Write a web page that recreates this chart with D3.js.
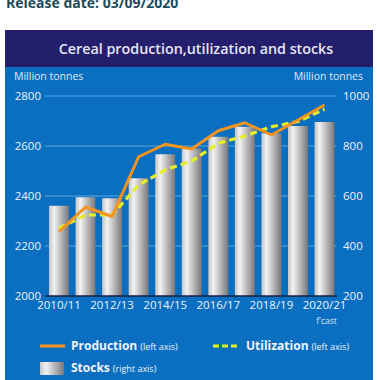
<!DOCTYPE html>
<html><head><meta charset="utf-8">
<script src="https://cdn.jsdelivr.net/npm/d3@7"></script>
<style>html,body{margin:0;padding:0;background:#fff;overflow:hidden}</style>
</head><body>
<script>
const categories = ["2010/11","2011/12","2012/13","2013/14","2014/15","2015/16","2016/17","2017/18","2018/19","2019/20","2020/21"];
const tickCategories = ["2010/11","2012/13","2014/15","2016/17","2018/19","2020/21"];
const production = [2257, 2356, 2318, 2557, 2607, 2588, 2661, 2693, 2644, 2704, 2764];
const utilization = [2271, 2324, 2324, 2444, 2504, 2540, 2611, 2640, 2677, 2698, 2747];
const stocks = [561, 595, 591, 671, 767, 790, 837, 877, 851, 880, 896];
const leftTicks = [2000, 2200, 2400, 2600, 2800];
const rightTicks = [200, 400, 600, 800, 1000];

const W = 377, H = 380;
const svg = d3.select("body").append("svg").attr("width", W).attr("height", H);
const font = "'Open Sans', 'Noto Sans', sans-serif";

const defs = svg.append("defs");
const g = defs.append("linearGradient").attr("id","barGrad").attr("x1","0").attr("x2","1").attr("y1","0").attr("y2","0");
g.append("stop").attr("offset","0%").attr("stop-color","#c4c4c6");
g.append("stop").attr("offset","25%").attr("stop-color","#f2f2f2");
g.append("stop").attr("offset","100%").attr("stop-color","#78787c");

// release date
svg.append("text").attr("x",6).attr("y",8).attr("font-family",font).attr("font-weight",700)
  .attr("font-size",14).attr("fill","#1b4b5a").text("Release date: 03/09/2020");

// panel
svg.append("rect").attr("x",5).attr("y",30).attr("width",368).attr("height",360).attr("fill","#0a6fc0");
svg.append("rect").attr("x",5).attr("y",30).attr("width",368).attr("height",37).attr("fill","#231f6c");
svg.append("text").attr("x",196).attr("y",54).attr("text-anchor","middle").attr("font-family",font)
  .attr("font-weight",600).attr("font-size",14.3).attr("fill","#e6e6f0").text("Cereal production,utilization and stocks");

const x = d3.scaleBand().domain(categories).range([45.7, 337.8]).paddingInner(0.25).paddingOuter(0.125);
const yL = d3.scaleLinear().domain([2000, 2800]).range([296, 96]);
const yR = d3.scaleLinear().domain([200, 1000]).range([296, 96]);

// gridlines
svg.append("g").selectAll("line").data(leftTicks.slice(1)).join("line")
  .attr("x1",45).attr("x2",336).attr("y1",d=>yL(d)).attr("y2",d=>yL(d))
  .attr("stroke","#5aa6e2").attr("stroke-width",1);

// axes
const axL = svg.append("g").attr("transform","translate(45,0)")
  .call(d3.axisLeft(yL).tickValues(leftTicks).tickSize(0).tickPadding(4).tickFormat(d3.format("d")));
const axR = svg.append("g").attr("transform","translate(337,0)")
  .call(d3.axisRight(yR).tickValues(rightTicks).tickSize(0).tickPadding(6).tickFormat(d3.format("d")));
[axL, axR].forEach(a=>{
  a.select(".domain").remove();
  a.selectAll("text").attr("font-family",font).attr("font-size",11.5).attr("fill","#eef2fa");
});

svg.append("text").attr("x",14).attr("y",80).attr("font-family",font).attr("font-size",10.5).attr("fill","#dfe8f5").text("Million tonnes");
svg.append("text").attr("x",363).attr("y",80).attr("text-anchor","end").attr("font-family",font).attr("font-size",10.5).attr("fill","#dfe8f5").text("Million tonnes");

// bars
svg.append("g").selectAll("rect").data(categories).join("rect")
  .attr("x",d=>x(d)).attr("width",x.bandwidth())
  .attr("y",(d,i)=>yR(stocks[i])).attr("height",(d,i)=>yR(200)-yR(stocks[i]))
  .attr("fill","url(#barGrad)");

// x axis
const axB = svg.append("g").attr("transform","translate(0,296)")
  .call(d3.axisBottom(x).tickValues(tickCategories).tickSize(0).tickPadding(5));
axB.select(".domain").attr("d","M45,0H337").attr("stroke","#102040").attr("stroke-width",1.5);
axB.selectAll("text").attr("font-family",font).attr("font-size",11.5).attr("fill","#eef2fa");
svg.append("text").attr("x",x("2020/21")+x.bandwidth()/2+2).attr("y",323.5).attr("text-anchor","middle")
  .attr("font-family",font).attr("font-size",8.5).attr("fill","#dfe8f5").text("f'cast");

// lines
const cx = d => x(d) + x.bandwidth()/2;
const lineL = d3.line().x(d=>cx(d[0])).y(d=>yL(d[1]));
svg.append("path").datum(categories.map((c,i)=>[c,utilization[i]])).attr("d",lineL)
  .attr("fill","none").attr("stroke","#e6ee2a").attr("stroke-width",3.2).attr("stroke-dasharray","7,4");
svg.append("path").datum(categories.map((c,i)=>[c,production[i]])).attr("d",lineL)
  .attr("fill","none").attr("stroke","#f39320").attr("stroke-width",3).attr("stroke-linejoin","round");

// legend
const lg = svg.append("g");
lg.append("line").attr("x1",40).attr("x2",65).attr("y1",346).attr("y2",346).attr("stroke","#f39320").attr("stroke-width",3);
const t1 = lg.append("text").attr("x",71).attr("y",350).attr("font-family",font).attr("fill","#f0f4fa");
t1.append("tspan").attr("font-weight",700).attr("font-size",12).text("Production");
t1.append("tspan").attr("font-size",9).attr("dx",3).text("(left axis)");
lg.append("line").attr("x1",213).attr("x2",238).attr("y1",346).attr("y2",346).attr("stroke","#e6ee2a").attr("stroke-width",3).attr("stroke-dasharray","6,3");
const t2 = lg.append("text").attr("x",246).attr("y",350).attr("font-family",font).attr("fill","#f0f4fa");
t2.append("tspan").attr("font-weight",700).attr("font-size",12).text("Utilization");
t2.append("tspan").attr("font-size",9).attr("dx",3).text("(left axis)");
lg.append("rect").attr("x",40).attr("y",362).attr("width",24).attr("height",13).attr("fill","url(#barGrad)");
const t3 = lg.append("text").attr("x",71).attr("y",372).attr("font-family",font).attr("fill","#f0f4fa");
t3.append("tspan").attr("font-weight",700).attr("font-size",12).text("Stocks");
t3.append("tspan").attr("font-size",9).attr("dx",3).text("(right axis)");
</script>
</body></html>
